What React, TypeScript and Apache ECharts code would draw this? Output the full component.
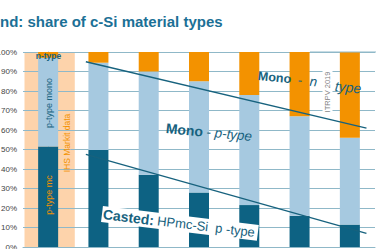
import React, { useEffect, useRef } from "react";
import * as echarts from "echarts";

const categories = ["2018", "2019", "2020", "2022", "2024", "2026", "2029"];
const castedMc = [51.5, 49.7, 37, 28, 21.5, 16, 11.5];
const monoP = [45.5, 44.8, 53, 57, 56.5, 51, 44.5];
const monoN = [3, 5.5, 10, 15, 22, 33, 44];
const sourceBand = [0]; // category index of the IHS Markit data column
const trendMonoN = [[0.75, 95], [6.33, 61]];
const trendCasted = [[0.75, 47.5], [6.33, 7]];

const DARK = "#0d6283";
const LIGHT = "#a6c9e0";
const ORANGE = "#f39200";
const PEACH = "#fdd3ab";
const GRID = "#8fb8c8";
const TEAL = "#17627e";

export default function App() {
  const ref = useRef<HTMLDivElement>(null);
  useEffect(() => {
    const chart = echarts.init(ref.current!, null, { renderer: "svg" });
    const font = "Liberation Sans, Arial, sans-serif";
    chart.setOption({
      animation: false,
      title: {
        text: "nd: share of c-Si material types",
        left: 0,
        top: 14,
        padding: 0,
        textStyle: { fontSize: 15, fontWeight: "bold", color: "#1b7096", fontFamily: font },
      },
      grid: { left: 23, right: 14, top: 52, bottom: 2, containLabel: false, outerBoundsMode: "none" },
      xAxis: [
        {
          type: "category",
          data: categories,
          axisLine: { show: true, lineStyle: { color: GRID } },
          axisTick: { show: false },
          axisLabel: { show: false },
        },
        { type: "value", min: -0.5, max: 6.5, show: false },
      ],
      yAxis: {
        type: "value",
        min: 0,
        max: 100,
        interval: 10,
        z: 1,
        axisLine: { show: true, lineStyle: { color: GRID } },
        axisTick: { show: false },
        axisLabel: { formatter: "{value}%", fontSize: 8, color: "#444", margin: 6, fontFamily: font },
        splitLine: { lineStyle: { color: GRID, width: 1 } },
      },
      series: [
        {
          type: "custom",
          xAxisIndex: 0,
          data: sourceBand,
          z: 0,
          silent: true,
          renderItem: (params: any, api: any) => {
            const idx = api.value(0);
            const bottom = api.coord([idx, 0]);
            const top = api.coord([idx, 100]);
            const w = api.size([1, 0])[0];
            return {
              type: "rect",
              shape: { x: bottom[0] - w / 2 + 1.5, y: top[1], width: w, height: bottom[1] - top[1] },
              style: { fill: PEACH },
            };
          },
        },
        { type: "bar", stack: "s", data: castedMc, barWidth: 20, itemStyle: { color: DARK }, z: 2 },
        { type: "bar", stack: "s", data: monoP, barWidth: 20, itemStyle: { color: LIGHT }, z: 2 },
        { type: "bar", stack: "s", data: monoN, barWidth: 20, itemStyle: { color: ORANGE }, z: 2 },
        {
          type: "line",
          xAxisIndex: 1,
          data: trendMonoN,
          symbol: "none",
          lineStyle: { color: TEAL, width: 1.3 },
          z: 5,
        },
        {
          type: "line",
          xAxisIndex: 1,
          data: trendCasted,
          symbol: "none",
          lineStyle: { color: TEAL, width: 1.3 },
          z: 5,
        },
      ],
      graphic: [
        {
          type: "line",
          shape: { x1: 310, y1: 52, x2: 376, y2: 52 },
          style: { stroke: GRID, lineWidth: 1 },
          z: 10,
        },
        {
          type: "text",
          x: 48.5,
          y: 56,
          z: 10,
          style: { text: "n-type", fontSize: 8.5, fontWeight: "bold", fill: TEAL, align: "center", verticalAlign: "middle", fontFamily: font },
        },
        {
          type: "text",
          x: 48.5,
          y: 103,
          rotation: Math.PI / 2,
          z: 10,
          style: { text: "p-type mono", fontSize: 9, fill: TEAL, align: "center", verticalAlign: "middle", fontFamily: font },
        },
        {
          type: "text",
          x: 48.5,
          y: 195,
          rotation: Math.PI / 2,
          z: 10,
          style: { text: "p-type mc", fontSize: 9, fill: ORANGE, align: "center", verticalAlign: "middle", fontFamily: font },
        },
        {
          type: "text",
          x: 66.5,
          y: 143,
          rotation: Math.PI / 2,
          z: 10,
          style: { text: "IHS Markit data", fontSize: 8.5, fill: ORANGE, align: "center", verticalAlign: "middle", fontFamily: font },
        },
        {
          type: "text",
          x: 327.5,
          y: 92,
          rotation: Math.PI / 2,
          z: 10,
          style: {
            text: "ITRPV 2019",
            fontSize: 7.5,
            fill: "#808080",
            align: "center",
            verticalAlign: "middle",
            fontFamily: font,
            backgroundColor: "#fff",
            padding: [1, 2],
          },
        },
        {
          type: "text",
          x: 258,
          y: 76,
          rotation: -0.1,
          z: 11,
          style: {
            text: "{b|Mono}  {r|-  n}",
            align: "left",
            verticalAlign: "middle",
            rich: {
              b: { fontSize: 12.5, fontWeight: "bold", fill: TEAL, fontFamily: font },
              r: { fontSize: 13.5, fontStyle: "italic", fill: TEAL, fontFamily: font },
            },
          },
        },
        {
          type: "text",
          x: 335,
          y: 86,
          rotation: -0.1,
          z: 11,
          style: {
            text: "type",
            align: "left",
            verticalAlign: "middle",
            fontSize: 14,
            fontStyle: "italic",
            fill: TEAL,
            fontFamily: font,
          },
        },
        {
          type: "text",
          x: 166,
          y: 128,
          rotation: -0.1,
          z: 11,
          style: {
            text: "{b|Mono} {r|- p-type}",
            align: "left",
            verticalAlign: "middle",
            rich: {
              b: { fontSize: 14, fontWeight: "bold", fill: TEAL, fontFamily: font },
              r: { fontSize: 13.5, fontStyle: "italic", fill: TEAL, fontFamily: font },
            },
          },
        },
        {
          type: "text",
          x: 102,
          y: 214,
          rotation: -0.12,
          z: 11,
          style: {
            text: "{b|Casted:} {r|HPmc-Si  p -type}",
            align: "left",
            verticalAlign: "middle",
            backgroundColor: "#fff",
            padding: [1, 3, 1, 1],
            rich: {
              b: { fontSize: 14, fontWeight: "bold", fill: TEAL, fontFamily: font },
              r: { fontSize: 13, fill: TEAL, fontFamily: font },
            },
          },
        },
      ],
    });
    return () => chart.dispose();
  }, []);
  return <div ref={ref} style={{ position: "absolute", left: 0, top: 0, width: 389, height: 249 }} />;
}
